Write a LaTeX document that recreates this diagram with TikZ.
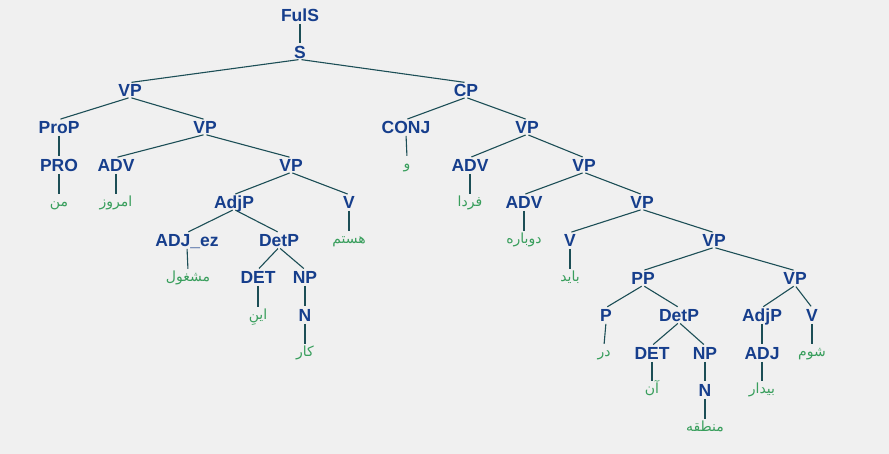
\documentclass[tikz,border=0pt]{standalone}
\usepackage{fontspec}
\setmainfont{Liberation Sans}
\newfontfamily\arabicfont[Script=Arabic]{DejaVu Sans}
\TeXXeTstate=1
\definecolor{bgray}{RGB}{240,240,240}
\definecolor{labblue}{RGB}{22,62,140}
\definecolor{edgeteal}{RGB}{28,78,86}
\definecolor{leafgreen}{RGB}{56,158,92}
\tikzset{
  lab/.style={font=\fontsize{17.5}{19}\selectfont\bfseries, text=labblue, inner sep=1pt, text height=12.5pt, text depth=0pt},
  leaf/.style={font=\arabicfont\fontsize{14}{16}\selectfont, text=leafgreen, inner sep=1pt, text height=10pt, text depth=3pt},
  edge/.style={draw=edgeteal, line width=1.1pt, shorten <=1.5pt, shorten >=1.5pt}
}
\newcommand{\ar}[1]{\beginR #1\endR}
\begin{document}
\begin{tikzpicture}[x=1pt, y=-1pt]
  \fill[bgray] (0,0) rectangle (889,454);
  \useasboundingbox (0,0) rectangle (889,454);
  % left half
  \node[lab] (fuls) at (300,15) {FulS};
  \node[lab] (s) at (300,52) {S};
  \node[lab] (vpa) at (130,90) {VP};
  \node[lab] (prop) at (59,127) {ProP};
  \node[lab] (vpb) at (205,127) {VP};
  \node[lab] (pro) at (59,165) {PRO};
  \node[lab] (adva) at (116,165) {ADV};
  \node[lab] (vpc) at (291,165) {VP};
  \node[leaf] (w1) at (59,203) {\ar{من}};
  \node[leaf] (w2) at (116,203) {\ar{امروز}};
  \node[lab] (adjpa) at (234,202) {AdjP};
  \node[lab] (va) at (349,202) {V};
  \node[lab] (adjez) at (187,240) {ADJ\_ez};
  \node[lab] (detpa) at (279,240) {DetP};
  \node[leaf] (w3) at (349,240) {\ar{هستم}};
  \node[leaf] (w4) at (188,278) {\ar{مشغول}};
  \node[lab] (deta) at (258,277) {DET};
  \node[lab] (npa) at (305,277) {NP};
  \node[leaf] (w5) at (258,316) {\ar{اینِ}};
  \node[lab] (na) at (305,315) {N};
  \node[leaf] (w6) at (305,353) {\ar{کار}};
  % right half
  \node[lab] (cp) at (466,90) {CP};
  \node[lab] (conj) at (406,127) {CONJ};
  \node[lab] (vpd) at (527,127) {VP};
  \node[leaf] (w7) at (407,165) {\ar{و}};
  \node[lab] (advb) at (470,165) {ADV};
  \node[lab] (vpe) at (584,165) {VP};
  \node[leaf] (w8) at (470,203) {\ar{فردا}};
  \node[lab] (advc) at (524,202) {ADV};
  \node[lab] (vpf) at (642,202) {VP};
  \node[leaf] (w9) at (524,240) {\ar{دوباره}};
  \node[lab] (vb) at (570,240) {V};
  \node[lab] (vpg) at (714,240) {VP};
  \node[leaf] (w10) at (570,278) {\ar{باید}};
  \node[lab] (pp) at (643,278) {PP};
  \node[lab] (vph) at (795,278) {VP};
  \node[lab] (p) at (606,315) {P};
  \node[lab] (detpb) at (679,315) {DetP};
  \node[lab] (adjpb) at (762,315) {AdjP};
  \node[lab] (vc) at (812,315) {V};
  \node[leaf] (w11) at (604,353) {\ar{در}};
  \node[lab] (detb) at (652,353) {DET};
  \node[lab] (npb) at (705,353) {NP};
  \node[lab] (adj) at (762,353) {ADJ};
  \node[leaf] (w15) at (812,353) {\ar{شوم}};
  \node[leaf] (w12) at (652,390) {\ar{آن}};
  \node[lab] (nb) at (705,390) {N};
  \node[leaf] (w14) at (762,390) {\ar{بیدار}};
  \node[leaf] (w13) at (705,428) {\ar{منطقه}};
  % branches
  \foreach \a/\b in {fuls/s, s/vpa, s/cp, vpa/prop, vpa/vpb, prop/pro, pro/w1,
      vpb/adva, vpb/vpc, adva/w2, vpc/adjpa, vpc/va, va/w3, adjpa/adjez,
      adjpa/detpa, adjez/w4, detpa/deta, detpa/npa, deta/w5, npa/na, na/w6,
      cp/conj, cp/vpd, conj/w7, vpd/advb, vpd/vpe, advb/w8, vpe/advc, vpe/vpf,
      advc/w9, vpf/vb, vpf/vpg, vb/w10, vpg/pp, vpg/vph, pp/p, pp/detpb, p/w11,
      detpb/detb, detpb/npb, detb/w12, npb/nb, nb/w13, vph/adjpb, vph/vc,
      adjpb/adj, adj/w14, vc/w15}
    \draw[edge] (\a.south) -- (\b.north);
\end{tikzpicture}
\end{document}
